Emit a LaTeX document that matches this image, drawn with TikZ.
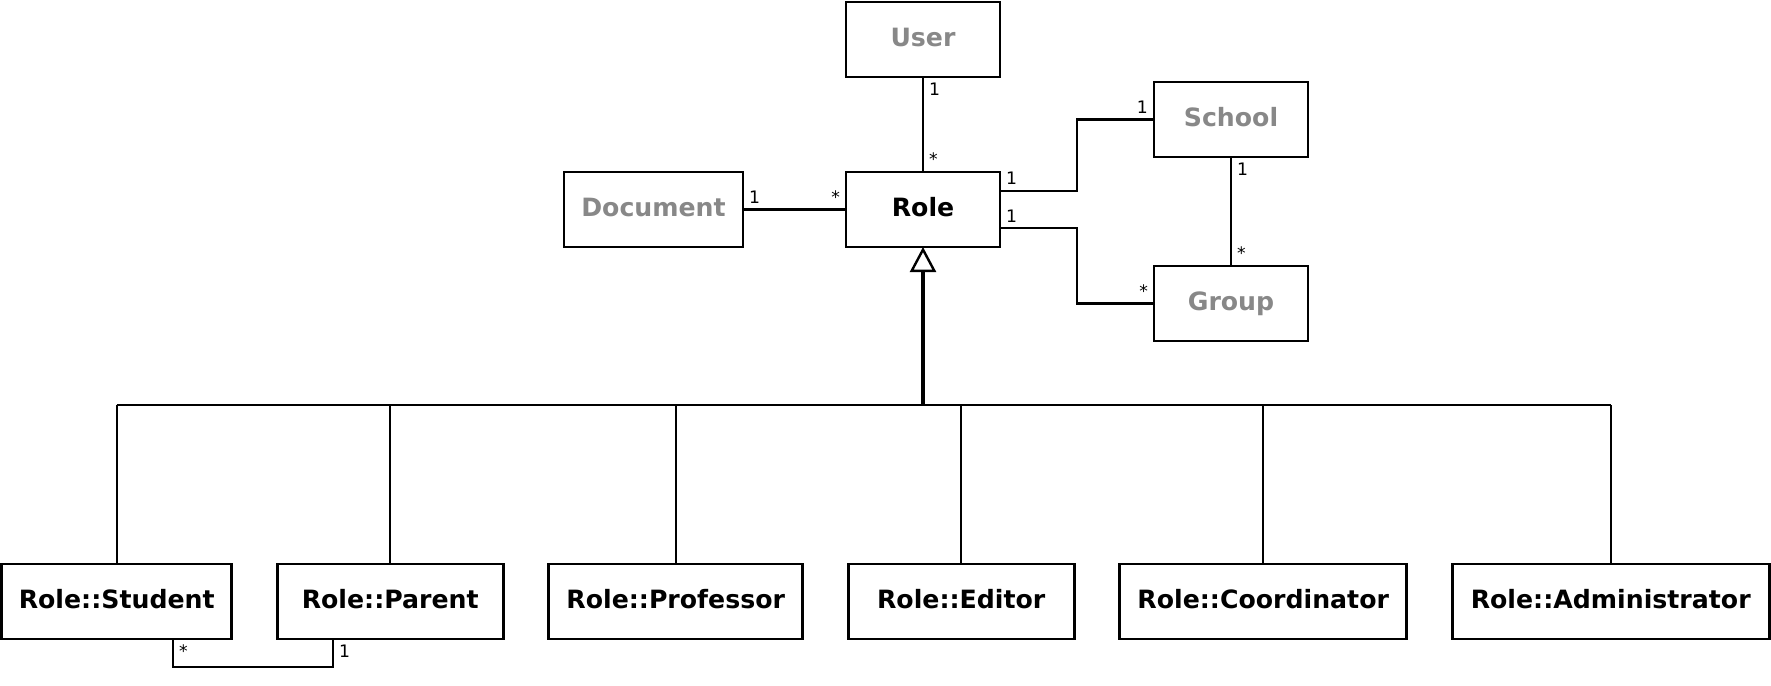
\documentclass[tikz,border=0pt]{standalone}
\usepackage{fontspec}
\setmainfont{DejaVu Sans}
\usetikzlibrary{arrows.meta,positioning}
\definecolor{extgray}{RGB}{136,136,136}

\begin{document}
\begin{tikzpicture}[x=0.5pt,y=-0.5pt,node distance=22.75pt,
  box/.style={draw,line width=1.3pt,outer sep=0pt,inner sep=0pt,minimum height=37.5pt,
    text height=0.73em,text depth=0pt,font=\fontsize{12.6}{15}\selectfont\bfseries},
  ext/.style={box,text=extgray},
  mult/.style={inner sep=2.5pt,font=\fontsize{8.6}{10}\selectfont},
  assoc/.style={line width=1.1pt},
  inherit/.style={line width=1.1pt}]
  \useasboundingbox (0,0) rectangle (1771,685);

  % classes around Role
  \node[box,minimum width=77pt] (Role) at (923,209.5) {Role};
  \node[ext,minimum width=77pt,above=47.5pt of Role] (User) {User};
  \node[ext,minimum width=89.5pt,left=51.5pt of Role] (Document) {Document};
  \node[ext,minimum width=77pt] (School) at (1231,119.5) {School};
  \node[ext,minimum width=77pt,below=54.5pt of School] (Group) {Group};

  % subclasses
  \node[box,minimum width=115pt] (Student) at (116.7,601.5) {Role::Student};
  \node[box,minimum width=113pt,right=of Student] (Parent) {Role::Parent};
  \node[box,minimum width=127pt,right=of Parent] (Professor) {Role::Professor};
  \node[box,minimum width=113pt,right=of Professor] (Editor) {Role::Editor};
  \node[box,minimum width=143.5pt,right=of Editor] (Coordinator) {Role::Coordinator};
  \node[box,minimum width=158.5pt,right=of Coordinator] (Administrator) {Role::Administrator};

  % associations
  \draw[assoc] (User) -- node[mult,pos=0,anchor=north west] {1} node[mult,pos=1,anchor=south west] {*} (Role);
  \draw[assoc] (Document) -- node[mult,pos=0,anchor=south west] {1} node[mult,pos=1,anchor=south east] {*} (Role);
  \draw[assoc] ([yshift=9.4pt]Role.east) node[mult,anchor=south west] {1} -- ++(77,0)
    |- node[mult,pos=1,anchor=south east] {1} (School.west);
  \draw[assoc] ([yshift=-9.4pt]Role.east) node[mult,anchor=south west] {1} -- ++(77,0)
    |- node[mult,pos=1,anchor=south east] {*} (Group.west);
  \draw[assoc] (School) -- node[mult,pos=0,anchor=north west] {1} node[mult,pos=1,anchor=south west] {*} (Group);
  \draw[assoc] ([xshift=28.15pt]Student.south) node[mult,anchor=north west] {*} -- ++(0,28)
    -| node[mult,pos=1,anchor=north west] {1} ([xshift=-28.6pt]Parent.south);

  % generalization
  \coordinate (tree) at (923,405);
  \draw[line width=1.7pt,-{Triangle[open,line width=1.2pt,length=12.5pt,width=13pt]}] (tree) -- (Role.south);
  \draw[line width=1.3pt] (Student.north |- tree) -- (Administrator.north |- tree);
  \foreach \sub in {Student,Parent,Professor,Editor,Coordinator,Administrator}
    \draw[inherit] (\sub.north) -- (\sub.north |- tree);
\end{tikzpicture}
\end{document}
